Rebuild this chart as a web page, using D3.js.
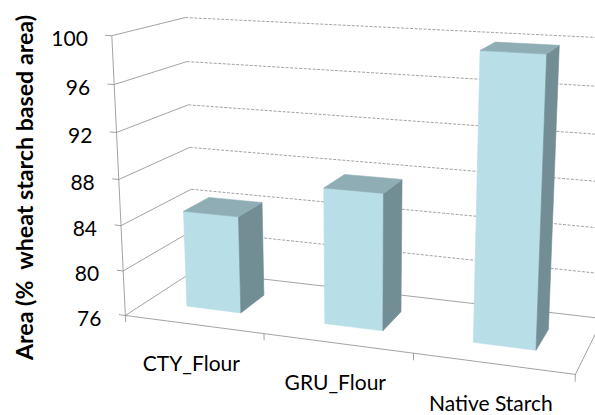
<!DOCTYPE html>
<html>
<head>
<meta charset="utf-8">
<script src="https://cdn.jsdelivr.net/npm/d3@7/dist/d3.min.js"></script>
<style>
  html, body { margin: 0; padding: 0; background: #fff; }
  svg { display: block; }
  text { font-family: Lato, "Open Sans", "Liberation Sans", sans-serif; fill: #000; white-space: pre; }
</style>
</head>
<body>
<svg id="chart" width="595" height="415"></svg>
<script>
// ---- data ----
const categories = ["CTY_Flour", "GRU_Flour", "Native Starch"];
const areaValues = [84.6, 87.8, 99.8];
const valueTicks = [76, 80, 84, 88, 92, 96, 100];
const valueDomain = [76, 100];
const axisTitle = "Area (%  wheat starch based area)";

// ---- layout ----
const colors = { front: "#b8dee8", top: "#8eadb4", side: "#728d94", grid: "#8c8c8c" };
const depth = { z0: 0.30, z1: 0.68 };   // bar depth inside the floor (0 = front, 1 = back)

// world space: x across categories [0,1], y value [0,1], z depth [0,1]
const xBand = d3.scaleBand().domain(categories).range([0, 1]).paddingInner(0.6).paddingOuter(0.3);
const xCat = d3.scalePoint().domain(categories).range([0, 1]).padding(0.5);
const yScale = d3.scaleLinear().domain(valueDomain).range([0, 1]);

// screen anchors of the plot box used to solve the perspective camera
// [x, value, z, screenX, screenY]
const anchors = [
  [0, 76, 0, 125.7, 315], [0, 80, 0, 123.3, 270], [0, 84, 0, 120.7, 224.3],
  [0, 88, 0, 118, 179], [0, 92, 0, 115.7, 132.7], [0, 96, 0, 114, 85], [0, 100, 0, 112.3, 37.7],
  [0, 100, 1, 185, 17], [0, 96, 1, 186.7, 61.3], [0, 92, 1, 188.3, 104.3],
  [0, 88, 1, 190, 146.7], [0, 84, 1, 191.7, 189.3], [0, 76, 1, 194.5, 273.5],
  [1 / 3, 76, 0, 264.3, 333.6], [2 / 3, 76, 0, 413.3, 353.4], [1, 76, 0, 576.5, 375],
  [1, 76, 1, 602, 318]
];
// vanishing point of the vertical edges
const verticalVP = [360, 5200], vpWeight = 3;

// Direct linear transform: least-squares 3x4 projection (p34 = 1)
function solveCamera(pts) {
  const cx = 300, cy = 200, s = 300;
  const n = 11;
  const M = Array.from({ length: n }, () => new Array(n + 1).fill(0));
  const addRow = (row, rhs) => {
    for (let i = 0; i < n; i++) {
      for (let j = 0; j < n; j++) M[i][j] += row[i] * row[j];
      M[i][n] += row[i] * rhs;
    }
  };
  pts.forEach(([X, V, Z, u0, v0]) => {
    const Y = yScale(V);
    const u = (u0 - cx) / s, v = (v0 - cy) / s;
    addRow([X, Y, Z, 1, 0, 0, 0, 0, -u * X, -u * Y, -u * Z], u);
    addRow([0, 0, 0, 0, X, Y, Z, 1, -v * X, -v * Y, -v * Z], v);
  });
  const vu = (verticalVP[0] - cx) / s, vv = (verticalVP[1] - cy) / s;
  addRow([0, vpWeight, 0, 0, 0, 0, 0, 0, 0, -vu * vpWeight, 0], 0);
  addRow([0, 0, 0, 0, 0, vpWeight / vv, 0, 0, 0, -vpWeight, 0], 0);
  for (let c = 0; c < n; c++) {
    let piv = c;
    for (let r = c + 1; r < n; r++) if (Math.abs(M[r][c]) > Math.abs(M[piv][c])) piv = r;
    [M[c], M[piv]] = [M[piv], M[c]];
    for (let r = 0; r < n; r++) {
      if (r === c) continue;
      const f = M[r][c] / M[c][c];
      for (let k = c; k <= n; k++) M[r][k] -= f * M[c][k];
    }
  }
  const p = M.map((row, i) => row[n] / row[i]);
  return (X, Y, Z) => {
    const w = p[8] * X + p[9] * Y + p[10] * Z + 1;
    const u = (p[0] * X + p[1] * Y + p[2] * Z + p[3]) / w;
    const v = (p[4] * X + p[5] * Y + p[6] * Z + p[7]) / w;
    return [u * s + cx, v * s + cy];
  };
}
const project = solveCamera(anchors);
const P = (x, value, z) => project(x, yScale(value), z);

const svg = d3.select("#chart");
const line = d3.line();
const poly = pts => "M" + pts.map(p => p.join(",")).join("L") + "Z";

// ---- walls and floor ----
const grid = svg.append("g").attr("fill", "none").attr("stroke", colors.grid).attr("stroke-width", 0.8);
const [vMin, vMax] = valueDomain;

// back wall gridlines (dashed); the floor line on the back wall is solid
valueTicks.forEach(v => {
  grid.append("path")
    .attr("d", line([P(0, v, 1), P(1, v, 1)]))
    .attr("stroke-dasharray", v === vMin ? null : "3,1.5");
});
// side wall gridlines
valueTicks.forEach(v => grid.append("path").attr("d", line([P(0, v, 0), P(0, v, 1)])));
// floor edges
grid.append("path").attr("d", line([P(0, vMin, 0), P(1, vMin, 0)]));
grid.append("path").attr("d", line([P(1, vMin, 0), P(1, vMin, 1)]));
// value axis with ticks
grid.append("path").attr("d", line([P(0, vMin, 0), P(0, vMax, 0)]));
valueTicks.forEach(v => grid.append("path").attr("d", line([P(-0.016, v, 0), P(0, v, 0)])));
// category ticks
[0, 1 / 3, 2 / 3, 1].forEach(x => grid.append("path").attr("d", line([P(x, vMin, 0), P(x, vMin - 0.6, 0)])));

// ---- bars ----
const bars = svg.append("g");
categories.forEach((c, i) => {
  const x0 = xBand(c), x1 = x0 + xBand.bandwidth();
  const v = areaValues[i];
  const { z0, z1 } = depth;
  const faces = [
    { fill: colors.front, pts: [P(x0, vMin, z0), P(x1, vMin, z0), P(x1, v, z0), P(x0, v, z0)] },
    { fill: colors.side, pts: [P(x1, vMin, z0), P(x1, vMin, z1), P(x1, v, z1), P(x1, v, z0)] },
    { fill: colors.top, pts: [P(x0, v, z0), P(x1, v, z0), P(x1, v, z1), P(x0, v, z1)] }
  ];
  const g = bars.append("g").attr("class", "bar");
  faces.forEach(f => g.append("path").attr("d", poly(f.pts))
    .attr("fill", f.fill).attr("stroke", f.fill).attr("stroke-width", 0.6).attr("stroke-linejoin", "round"));
});

// ---- labels ----
valueTicks.forEach(v => {
  const [ax, ay] = P(0, v, 0);
  svg.append("text").attr("x", ax - 24).attr("y", ay + 2)
    .attr("text-anchor", "end").attr("dominant-baseline", "central")
    .attr("font-size", 21).text(v);
});
categories.forEach(c => {
  const [cx, cy] = P(xCat(c), vMin, 0);
  svg.append("text").attr("x", cx - 2).attr("y", cy + 47)
    .attr("text-anchor", "middle").attr("font-size", 21).text(c);
});
svg.append("text")
  .attr("transform", "translate(32.7,187.5) rotate(-90)")
  .attr("text-anchor", "middle").attr("font-size", 22).attr("font-weight", "bold")
  .attr("textLength", 345).attr("lengthAdjust", "spacingAndGlyphs")
  .text(axisTitle);
</script>
</body>
</html>
